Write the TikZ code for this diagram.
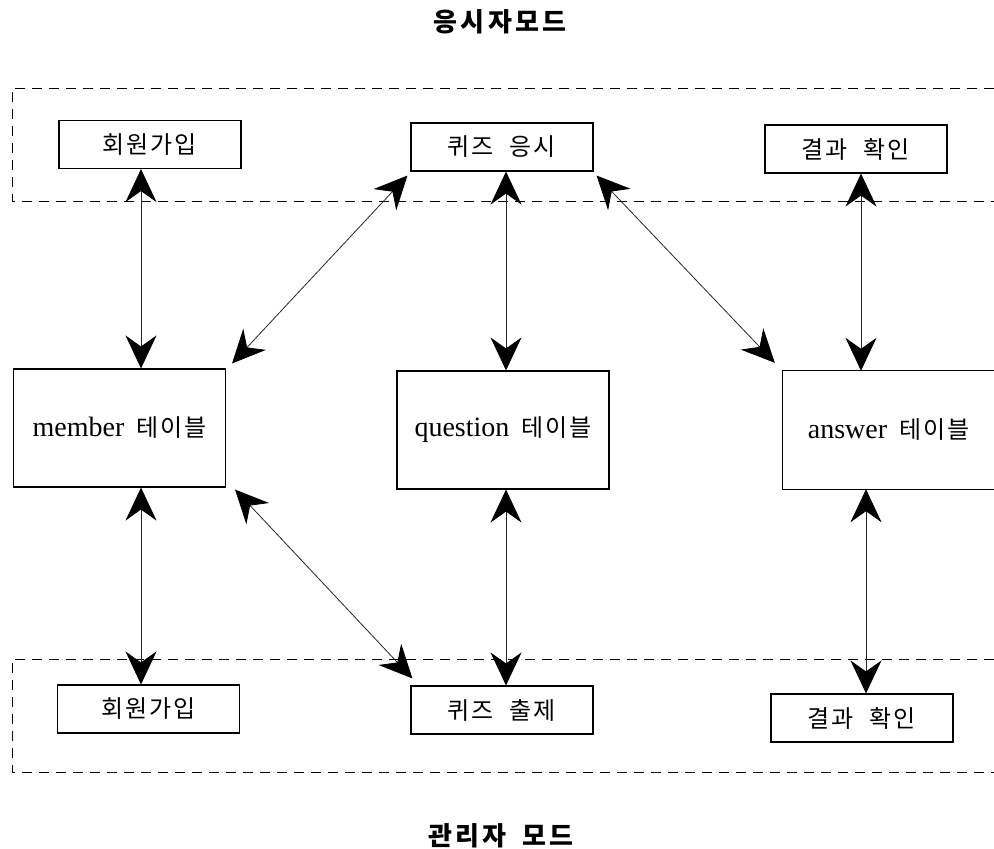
\documentclass[tikz,border=0pt]{standalone}
\usepackage{fontspec}
\setmainfont{Liberation Serif}
\newfontfamily\kr{Noto Sans CJK KR}[LetterSpace=8]
\newfontfamily\krt{Noto Sans CJK KR}[LetterSpace=12]
\usetikzlibrary{arrows.meta}
\newcommand{\kt}[1]{{\kr\fontsize{24pt}{28pt}\selectfont #1}}
\newcommand{\lt}[1]{{\fontsize{28pt}{32pt}\selectfont #1}}
\newcommand{\ksp}{\hspace{16pt}}
\begin{document}
\begin{tikzpicture}[x=1pt,y=-1pt,
  funcbox/.style={draw,line width=1.1pt,minimum width=182pt,minimum height=48pt,inner sep=0pt},
  tablebox/.style={draw,line width=1.1pt,minimum width=212pt,minimum height=118pt,inner sep=0pt},
  zone/.style={dashed,dash pattern=on 10pt off 7pt,line width=0.8pt},
  dbl/.style={line width=0.8pt,draw=black!85,{Stealth[length=33pt,width=31pt,inset=11pt,fill=black,color=black]}-{Stealth[length=33pt,width=31pt,inset=11pt,fill=black,color=black]}},
  title/.style={font=\krt\bfseries\fontsize{26pt}{30pt}\selectfont}]
\useasboundingbox (0,0) rectangle (994,849);
% zones
\draw[zone] (994,88) -- (12,88) -- (12,201) -- (994,201);
\draw[zone] (994,659) -- (12,659) -- (12,772) -- (994,772);
% titles
\node[title] (t1) at (500,22) {응시자모드};
\node[title] (t2) at (501,836) {관리자\ksp 모드};
% top boxes
\node[funcbox] (reg1) at (150,144.5) {\kt{회원가입}};
\node[funcbox] (quiz) at (502,147) {\kt{퀴즈\ksp 응시}};
\node[funcbox] (res1) at (856,149) {\kt{결과\ksp 확인}};
% tables
\node[tablebox] (member) at (119.5,428) {\lt{member}\hspace{12pt}\kt{테이블}};
\node[tablebox] (question) at (503,430) {\lt{question}\hspace{12pt}\kt{테이블}};
\node[minimum width=211pt,minimum height=118pt,inner sep=0pt] (answer) at (888.5,430) {\lt{answer}\hspace{12pt}\kt{테이블}};
\draw[line width=1.1pt] ([xshift=2pt]answer.north east) -- (answer.north west) -- (answer.south west) -- ([xshift=2pt]answer.south east);
% bottom boxes
\node[funcbox] (reg2) at (148.5,709) {\kt{회원가입}};
\node[funcbox] (quizout) at (502,710) {\kt{퀴즈\ksp 출제}};
\node[funcbox] (res2) at (862,718) {\kt{결과\ksp 확인}};
% x guides
\coordinate (xa) at (141,0);
\coordinate (xb) at (506,0);
\coordinate (xc) at (861,0);
\coordinate (xd) at (866,0);
% diagonal end points
\coordinate (mne) at ([shift={(6,-5)}]member.north east);
\coordinate (qsw) at ([shift={(-3,4)}]quiz.south west);
\coordinate (qse) at ([shift={(3,4)}]quiz.south east);
\coordinate (anw) at ([shift={(-8,-8)}]answer.north west);
\coordinate (mse) at ([shift={(9,2)}]member.south east);
\coordinate (qonw) at ([shift={(2,-7)}]quizout.north west);
% connectors
\draw[dbl] (reg1.south -| xa) -- (member.north -| xa);
\draw[dbl] (quiz.south -| xb) -- (question.north -| xb);
\draw[dbl] (res1.south -| xc) -- (answer.north -| xc);
\draw[dbl] (qsw) -- (mne);
\draw[dbl] (qse) -- (anw);
\draw[dbl] (member.south -| xa) -- (reg2.north -| xa);
\draw[dbl] (question.south -| xb) -- (quizout.north -| xb);
\draw[dbl] (answer.south -| xd) -- (res2.north -| xd);
\draw[dbl] (mse) -- (qonw);
\end{tikzpicture}
\end{document}
